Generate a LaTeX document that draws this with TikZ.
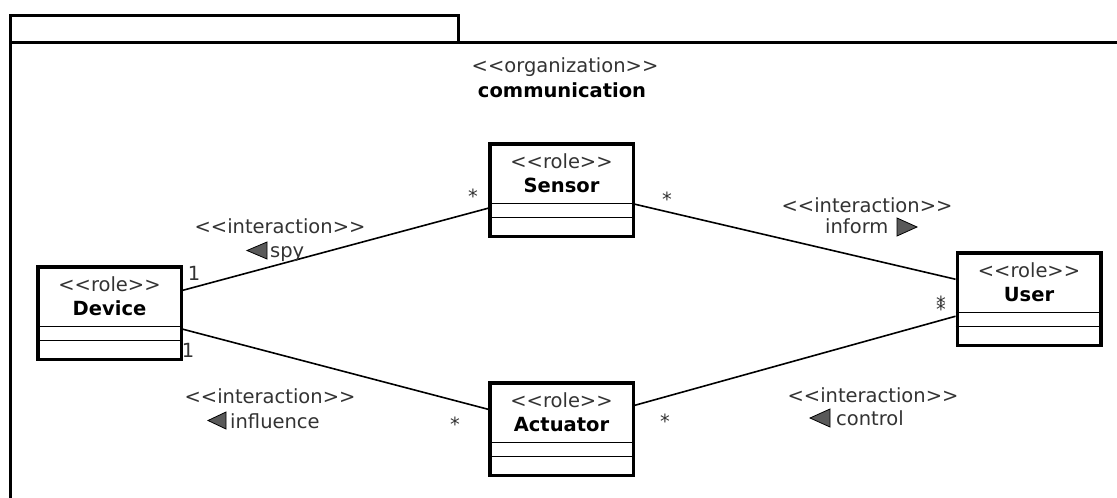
\documentclass[tikz,border=0pt]{standalone}
\usepackage{fontspec}
\setmainfont{DejaVu Sans}
\begin{document}
\begin{tikzpicture}[x=1pt,y=-1pt,
  frameline/.style={line width=3pt, line join=miter},
  rolebox/.style={draw, line width=3.5pt, minimum width=143.5pt, minimum height=92.5pt, inner sep=0pt},
  sepline/.style={line width=1.5pt},
  conn/.style={line width=1.6pt},
  stereo/.style={font=\fontsize{19.5}{23}\selectfont, text=black!80, inner sep=0pt, anchor=base},
  rname/.style={font=\fontsize{19.5}{23}\selectfont\bfseries, inner sep=0pt, anchor=base},
  lbl/.style={font=\fontsize{19.5}{23}\selectfont, text=black!80, inner sep=0pt, anchor=base west},
  mult/.style={font=\fontsize{19.5}{23}\selectfont, text=black!80, inner sep=0pt, anchor=base},
  tri/.style={draw=black, line width=0.8pt, fill=black!65, line join=miter}
]
\useasboundingbox (0,0) rectangle (1117,498);
\fill[white] (0,0) rectangle (1117,498);

% package frame
\draw[frameline] (10,505) -- (10,15) -- (458,15) -- (458,42);
\draw[frameline] (10,42) -- (1125,42);
\node[stereo] (orgst) at (565,72) {<{}<organization>{}>};
\node[rname] (orgname) at (562,97) {communication};

% role boxes
\node[rolebox] (sen) at (561.5,190) {};
\node[rolebox] (dev) at (109.5,313) {};
\node[rolebox] (usr) at (1029,299) {};
\node[rolebox] (act) at (561.5,429) {};

\foreach \b/\n in {sen/Sensor, dev/Device, usr/User, act/Actuator}{
  \node[stereo] (\b st) at ([yshift=-26.25pt]\b.north) {<{}<role>{}>};
  \node[rname] (\b nm) at ([yshift=-50.25pt]\b.north) {\n};
  \draw[sepline] ([yshift=-61.25pt]\b.north west) -- ([yshift=-61.25pt]\b.north east);
  \draw[sepline] ([yshift=-75.25pt]\b.north west) -- ([yshift=-75.25pt]\b.north east);
}

% connectors
\draw[conn] ([yshift=-25.25pt]dev.north east) -- ([yshift=-66.25pt]sen.north west);
\draw[conn] ([yshift=-64.25pt]dev.north east) -- ([yshift=-28.25pt]act.north west);
\draw[conn] ([yshift=-62.25pt]sen.north east) -- ([yshift=-28.25pt]usr.north west);
\draw[conn] ([yshift=-24.25pt]act.north east) -- ([yshift=-65.25pt]usr.north west);

% multiplicities
\node[mult] (m1) at (194,280) {1};
\node[mult] (m2) at (188,357) {1};
\node[mult] (m3) at (473,203) {*};
\node[mult] (m4) at (667,206) {*};
\node[mult] (m5) at (455,431) {*};
\node[mult] (m6) at (665,428) {*};
\node[mult] (m7) at (941,310) {*};
\node[mult] (m8) at (941,316) {*};

% interaction labels
\node[stereo] (spyst) at (280,233) {<{}<interaction>{}>};
\node[lbl] (spy) at (270,257) {spy};
\draw[tri] (247,250.5) -- (267,242) -- (267,259) -- cycle;

\node[stereo] (infst) at (867,212) {<{}<interaction>{}>};
\node[lbl] (inf) at (825,233) {inform};
\draw[tri] (917,227) -- (897,218) -- (897,236) -- cycle;

\node[stereo] (influst) at (270,403) {<{}<interaction>{}>};
\node[lbl] (influ) at (230,428) {influence};
\draw[tri] (208,420.5) -- (226,412) -- (226,429) -- cycle;

\node[stereo] (ctrlst) at (873,402) {<{}<interaction>{}>};
\node[lbl] (ctrl) at (836,425) {control};
\draw[tri] (810,418) -- (830,409) -- (830,427) -- cycle;
\end{tikzpicture}
\end{document}
